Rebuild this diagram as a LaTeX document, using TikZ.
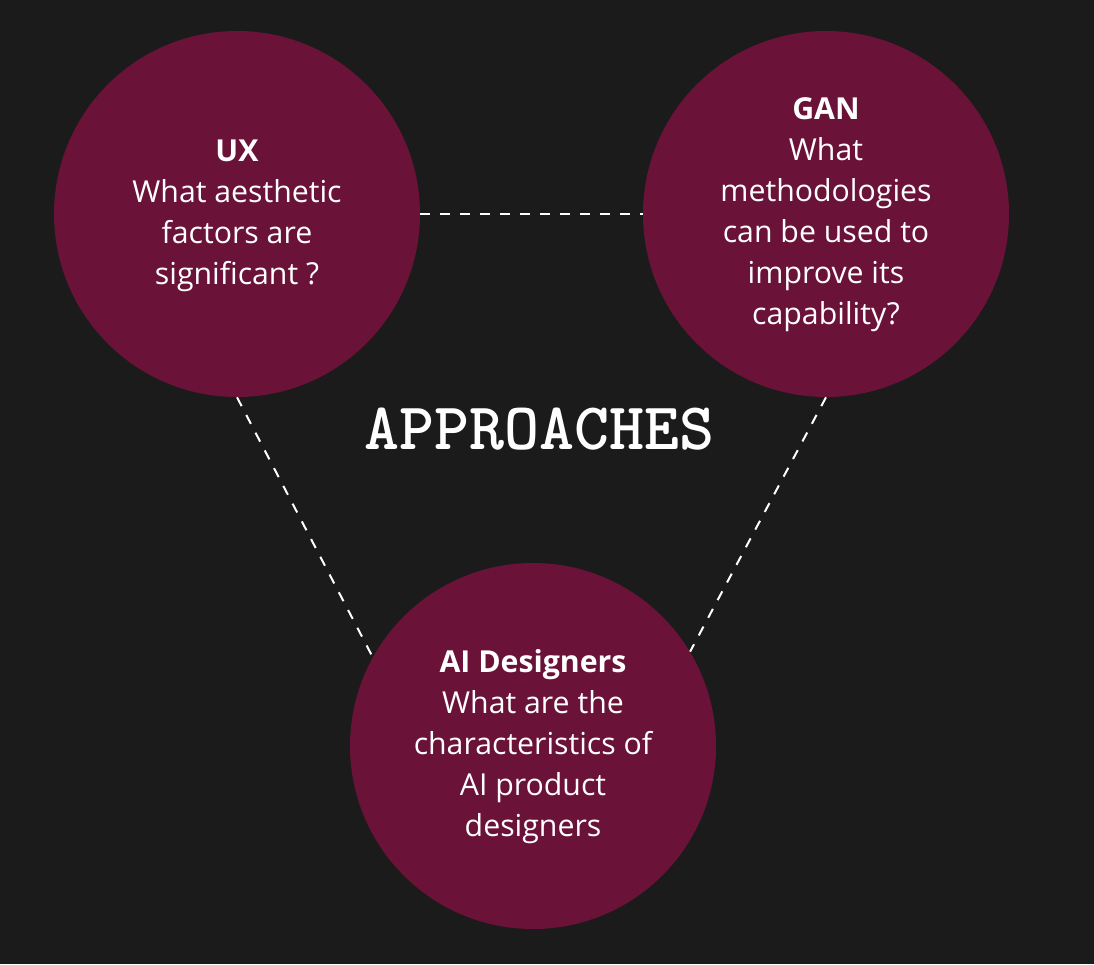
\documentclass[tikz,border=0pt]{standalone}
\usepackage{fontspec}
\setmainfont{Open Sans}
\usetikzlibrary{calc}
\definecolor{bg}{HTML}{1B1B1B}
\definecolor{plum}{HTML}{6A1238}
\tikzset{
  bubble/.style={circle,fill=plum,draw=none,minimum size=274.5pt,inner sep=0pt},
  bubbletext/.style={text=white,align=center,font=\fontsize{22.7}{30.75}\selectfont,inner sep=0pt},
  link/.style={draw=white,line width=1.5pt,dash pattern=on 7.5pt off 7.5pt}
}
\begin{document}
\begin{tikzpicture}[x=0.75pt,y=-0.75pt]
\fill[bg] (0,0) rectangle (1094,964);
\useasboundingbox (0,0) rectangle (1094,964);
\node[bubble] (ux) at (237,214) {};
\node[bubble] (gan) at (826,214) {};
\node[bubble] (ai) at (533,746) {};
\node[bubbletext] (uxt) at (237,216) {\textbf{UX}\\What aesthetic\\factors are\\significant ?};
\node[bubbletext] (gant) at (826,215) {\textbf{GAN}\\What\\methodologies\\can be used to\\improve its\\capability?};
\node[bubbletext] (ait) at (533,746.5) {\textbf{AI Designers}\\What are the\\characteristics of\\AI product\\designers};
\node[text=white,font=\ttfamily\bfseries\fontsize{50}{50}\selectfont,inner sep=0pt,anchor=base] (title) at (539,449) {APPROACHES};
\draw[link] (ux.east) -- (gan.west);
\draw[link] (ux.south) -- (ai.151);
\draw[link] (gan.south) -- (ai.31);
\end{tikzpicture}
\end{document}
